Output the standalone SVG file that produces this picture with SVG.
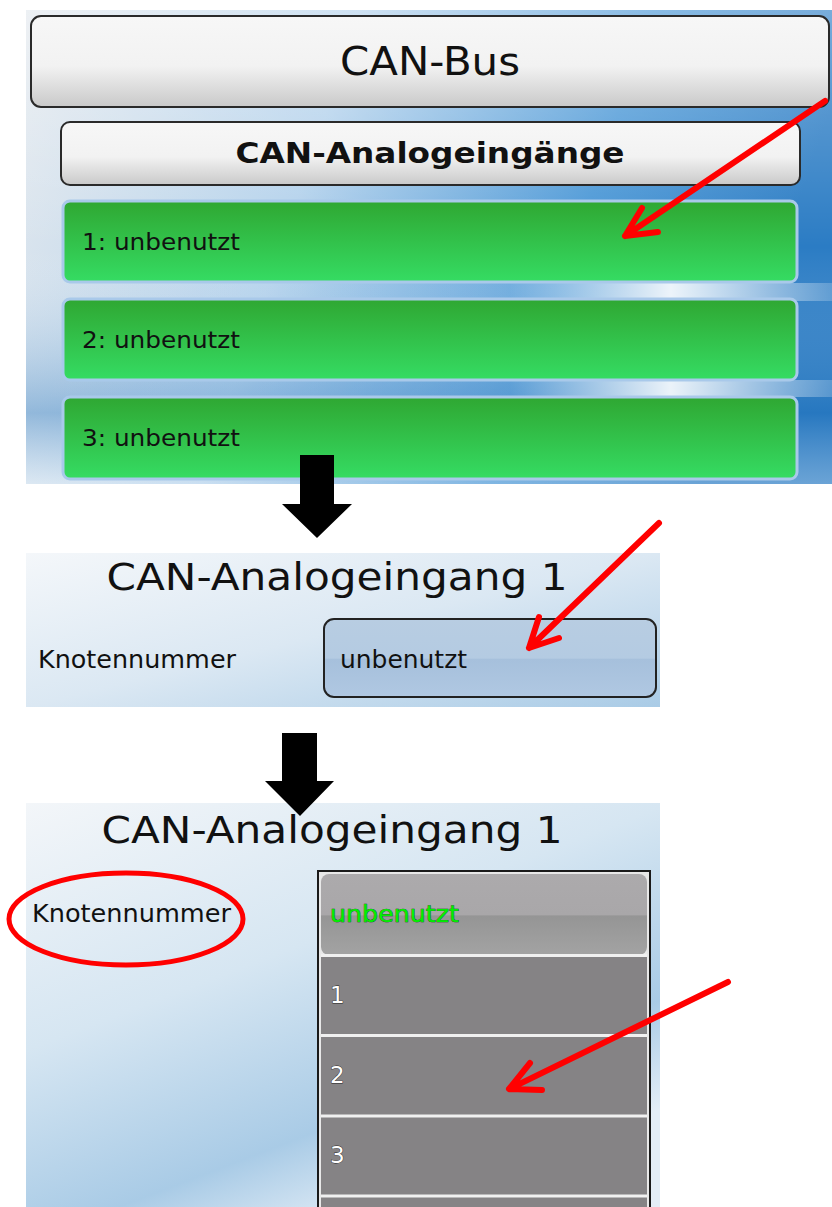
<svg xmlns="http://www.w3.org/2000/svg" width="832" height="1207" viewBox="0 0 832 1207">
<defs>
<linearGradient id="bg1" x1="0" y1="0" x2="1" y2="0.2">
<stop offset="0" stop-color="#e4e9ee"/>
<stop offset="0.4" stop-color="#b4d2ec"/>
<stop offset="0.75" stop-color="#4a97d6"/>
<stop offset="1" stop-color="#2b7cc4"/>
</linearGradient>
<linearGradient id="bg1v" x1="0" y1="0" x2="0" y2="1">
<stop offset="0" stop-color="#ffffff" stop-opacity="0.35"/>
<stop offset="0.5" stop-color="#ffffff" stop-opacity="0"/>
<stop offset="0.85" stop-color="#1f6fb8" stop-opacity="0.35"/>
<stop offset="1" stop-color="#ffffff" stop-opacity="0.3"/>
</linearGradient>
<linearGradient id="streak" x1="0" y1="0" x2="1" y2="0">
<stop offset="0" stop-color="#ffffff" stop-opacity="0"/>
<stop offset="0.6" stop-color="#ffffff" stop-opacity="0.1"/>
<stop offset="0.8" stop-color="#ffffff" stop-opacity="0.9"/>
<stop offset="1" stop-color="#ffffff" stop-opacity="0.2"/>
</linearGradient>
<linearGradient id="bg2" x1="0" y1="0" x2="1" y2="1">
<stop offset="0" stop-color="#f4f7fa"/>
<stop offset="0.5" stop-color="#dbe8f3"/>
<stop offset="1" stop-color="#a9cbe6"/>
</linearGradient>
<linearGradient id="bg3" x1="0" y1="0" x2="0.6" y2="1">
<stop offset="0" stop-color="#f3f6f9"/>
<stop offset="0.45" stop-color="#d6e6f2"/>
<stop offset="0.8" stop-color="#a9cbe6"/>
<stop offset="1" stop-color="#e4eef7"/>
</linearGradient>
<linearGradient id="btn" x1="0" y1="0" x2="0" y2="1">
<stop offset="0" stop-color="#f7f7f7"/>
<stop offset="0.55" stop-color="#f2f2f2"/>
<stop offset="1" stop-color="#c9c9c9"/>
</linearGradient>
<linearGradient id="green" x1="0" y1="0" x2="0" y2="1">
<stop offset="0" stop-color="#2fa732"/>
<stop offset="1" stop-color="#35dc63"/>
</linearGradient>
<linearGradient id="inp" x1="0" y1="0" x2="0" y2="1">
<stop offset="0" stop-color="#b8cde2"/>
<stop offset="0.5" stop-color="#b4cbe2"/>
<stop offset="0.52" stop-color="#a6c0dc"/>
<stop offset="1" stop-color="#b0c8e2"/>
</linearGradient>
<linearGradient id="sel" x1="0" y1="0" x2="0" y2="1">
<stop offset="0" stop-color="#acaaac"/>
<stop offset="0.5" stop-color="#a9a7a9"/>
<stop offset="0.52" stop-color="#959595"/>
<stop offset="1" stop-color="#a3a3a3"/>
</linearGradient>
<style>
.t{font-family:"DejaVu Sans",Verdana,sans-serif;fill:#111}
.red{fill:none;stroke:#ff0000;stroke-width:6;stroke-linecap:round;stroke-linejoin:round}
.row{fill:url(#green);stroke:#a9c9ea;stroke-width:3}
.item{fill:#858385}
.sep{stroke:#f0f0f0;stroke-width:3}
.num{font-family:"DejaVu Sans",Verdana,sans-serif;fill:#fff;font-size:23px;stroke:#222;stroke-width:0.8;paint-order:stroke}
</style>
</defs>
<rect x="0" y="0" width="832" height="1207" fill="#fff"/>

<g id="panel1">
<rect x="26" y="10" width="806" height="474" fill="url(#bg1)"/>
<rect x="26" y="10" width="806" height="474" fill="url(#bg1v)"/>
<rect x="26" y="283" width="806" height="18" fill="url(#streak)"/>
<rect x="26" y="380" width="806" height="17" fill="url(#streak)"/>
<g id="can-bus">
<rect x="31" y="16" width="798" height="91" rx="10" fill="url(#btn)" stroke="#2a2a2a" stroke-width="2"/>
<text class="t" x="430" y="75" font-size="39" text-anchor="middle" textLength="180" lengthAdjust="spacingAndGlyphs">CAN-Bus</text>
</g>
<g id="can-analogeingaenge">
<rect x="61" y="122" width="739" height="63" rx="9" fill="url(#btn)" stroke="#2a2a2a" stroke-width="2"/>
<text class="t" x="430" y="163" font-size="28" font-weight="bold" text-anchor="middle" textLength="389" lengthAdjust="spacingAndGlyphs">CAN-Analogeingänge</text>
</g>
<g id="row1">
<rect class="row" x="63" y="201" width="734" height="81" rx="7"/>
<text class="t" x="82" y="250" font-size="23" textLength="158" lengthAdjust="spacingAndGlyphs">1: unbenutzt</text>
</g>
<g id="row2">
<rect class="row" x="63" y="299" width="734" height="81" rx="7"/>
<text class="t" x="82" y="348" font-size="23" textLength="158" lengthAdjust="spacingAndGlyphs">2: unbenutzt</text>
</g>
<g id="row3">
<rect class="row" x="63" y="397" width="734" height="82" rx="7"/>
<text class="t" x="82" y="446" font-size="23" textLength="158" lengthAdjust="spacingAndGlyphs">3: unbenutzt</text>
</g>
</g>

<g id="panel2">
<rect x="26" y="553" width="634" height="154" fill="url(#bg2)"/>
<text class="t" x="337" y="590" font-size="37" text-anchor="middle" textLength="461" lengthAdjust="spacingAndGlyphs">CAN-Analogeingang 1</text>
<text class="t" x="38" y="668" font-size="24" textLength="198" lengthAdjust="spacingAndGlyphs">Knotennummer</text>
<g id="input-knoten">
<rect x="324" y="619" width="332" height="78" rx="10" fill="url(#inp)" stroke="#222" stroke-width="2"/>
<text class="t" x="340" y="668" font-size="24" textLength="127" lengthAdjust="spacingAndGlyphs">unbenutzt</text>
</g>
</g>

<g id="panel3">
<rect x="26" y="803" width="634" height="404" fill="url(#bg3)"/>
<text class="t" x="332" y="843" font-size="37" text-anchor="middle" textLength="461" lengthAdjust="spacingAndGlyphs">CAN-Analogeingang 1</text>
<text class="t" x="32" y="922" font-size="24" textLength="199" lengthAdjust="spacingAndGlyphs">Knotennummer</text>
<g id="list">
<rect x="318" y="871" width="332" height="340" fill="#e8e8e8" stroke="#1a1a1a" stroke-width="2"/>
<rect x="321" y="874" width="326" height="81" rx="8" fill="url(#sel)"/>
<rect class="item" x="321" y="956" width="326" height="79"/>
<rect class="item" x="321" y="1036" width="326" height="79"/>
<rect class="item" x="321" y="1117" width="326" height="79"/>
<rect class="item" x="321" y="1197" width="326" height="12"/>
<line class="sep" x1="321" y1="955.5" x2="647" y2="955.5"/>
<line class="sep" x1="321" y1="1035.5" x2="647" y2="1035.5"/>
<line class="sep" x1="321" y1="1116" x2="647" y2="1116"/>
<line class="sep" x1="321" y1="1196" x2="647" y2="1196"/>
<text x="330" y="922" font-family="DejaVu Sans,Verdana,sans-serif" font-size="23" fill="#00f000" stroke="#0a3a0a" stroke-width="0.6" paint-order="stroke" textLength="129" lengthAdjust="spacingAndGlyphs">unbenutzt</text>
<text class="num" x="330" y="1003">1</text>
<text class="num" x="330" y="1083">2</text>
<text class="num" x="330" y="1163">3</text>
</g>
<ellipse cx="126" cy="919" rx="117" ry="46" fill="none" stroke="#ff0000" stroke-width="5"/>
</g>

<g id="connectors">
<path d="M300 455 H334 V504 H352 L317 538 L282 504 H300 Z" fill="#000"/>
<path d="M282 733 H317 V781 H334 L300 816 L265 781 H282 Z" fill="#000"/>
<path class="red" d="M825 101 L625 236 M642 208 L625 236 L658 232"/>
<path class="red" d="M659 523 L529 648 M539 617 L529 648 L559 638"/>
<path class="red" d="M728 982 L509 1089 M530 1063 L509 1089 L542 1090"/>
</g>
</svg>
